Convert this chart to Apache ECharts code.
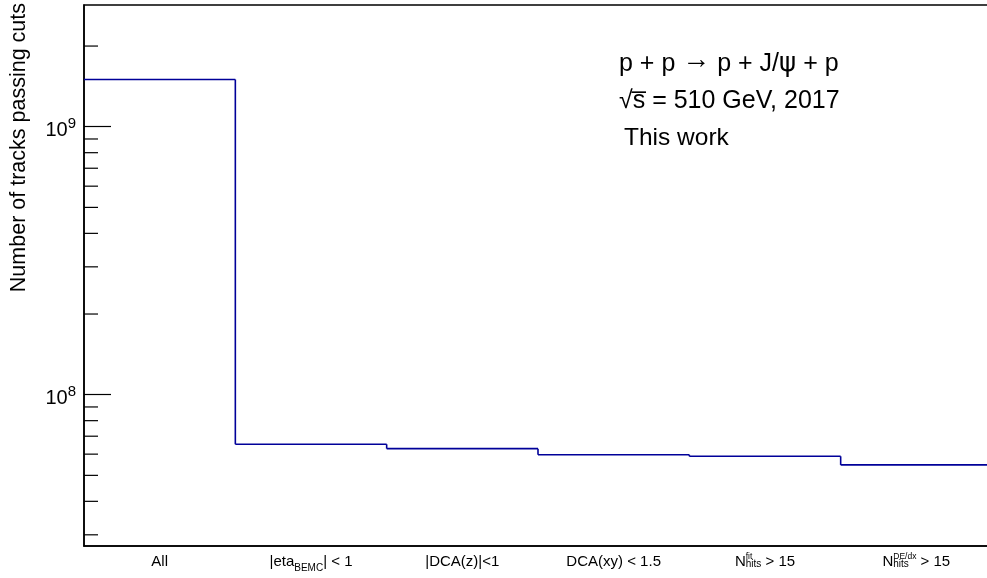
<!DOCTYPE html>
<html><head><meta charset="utf-8">
<script src="https://cdn.jsdelivr.net/npm/echarts@6/dist/echarts.min.js"></script>
<style>html,body{margin:0;padding:0;background:#fff}#c{width:987px;height:578px}</style>
</head><body><div id="c"></div>
<script>
// ---- data ----
const categories = ['All', 'eta', 'dcaz', 'dcaxy', 'nfit', 'ndedx'];
const categoryLabels = [
  '{m|All}',
  '{m||eta}{sb|BEMC}{m|| < 1}',
  '{m||DCA(z)|<1}',
  '{m|DCA(xy) < 1.5}',
  '{m|N}{spz|fit}{sh|hits}{m| > 15}',
  '{m|N}{shz|hits}{sp|DE/dx}{m| > 15}'
];
const counts = [1.50e9, 6.53e7, 6.29e7, 5.97e7, 5.89e7, 5.47e7];
const yMin = 2.725e7, yMax = 2.846e9;
const minorTickValues = [3e7, 4e7, 5e7, 6e7, 7e7, 8e7, 9e7, 2e8, 3e8, 4e8, 5e8, 6e8, 7e8, 8e8, 9e8, 2e9];
const annotationRich = '{t|p + p }{a|\u2192}{t| p + J/}{g|\u03C8}{t| + p}\n{t|\u221As\u0305 = 510 GeV, 2017}\n{w|This work}';
const yTitle = 'Number of tracks passing cuts';

const FF = '"Liberation Sans", Arial, Helvetica, sans-serif';
const LINE = '#000099';
const chart = echarts.init(document.getElementById('c'), null, {renderer: 'canvas'});

const tok = (fs, pt, extra) => Object.assign({fontSize: fs, lineHeight: fs, fontFamily: FF, color: '#000', padding: [pt, 0, 0, 0], verticalAlign: 'top', align: 'left'}, extra || {});

chart.setOption({
  animation: false,
  backgroundColor: '#fff',
  grid: {left: 84, top: 5, width: 908, bottom: 32, outerBoundsMode: 'none', containLabel: false, show: true, borderColor: '#000', borderWidth: 1.5, backgroundColor: 'transparent'},
  xAxis: {
    type: 'category', data: categories, boundaryGap: true,
    axisLine: {lineStyle: {color: '#000', width: 1.5}},
    axisTick: {inside: true, length: 16, lineStyle: {color: '#000', width: 1.2}},
    axisLabel: {
      interval: 0, margin: 5, color: '#000', fontFamily: FF, fontSize: 15,
      formatter: (v, i) => categoryLabels[i],
      rich: {
        m: tok(15, 3),
        sb: tok(10, 12.5),
        sh: tok(10, 8),
        shz: tok(10, 8, {width: 0}),
        sp: tok(8.5, 1),
        spz: tok(8.5, 1, {width: 0})
      }
    },
    splitLine: {show: false}
  },
  yAxis: {
    type: 'log', logBase: 10, min: yMin, max: yMax,
    axisLine: {show: true, lineStyle: {color: '#000', width: 1.5}},
    axisTick: {show: true, inside: true, length: 27, lineStyle: {color: '#000', width: 1.2}},
    minorTick: {show: false},
    splitLine: {show: false},
    axisLabel: {
      margin: 8, color: '#000', fontFamily: FF, showMinLabel: false, showMaxLabel: false,
      formatter: v => { const e = Math.log10(v); const r = Math.round(e); return Math.abs(e - r) < 1e-6 ? '{b|10}{s|' + r + '}' : ''; },
      rich: {
        b: {fontSize: 20, lineHeight: 20, fontFamily: FF, color: '#000', padding: [4, 0, 0, 0], verticalAlign: 'top'},
        s: {fontSize: 15, lineHeight: 15, fontFamily: FF, color: '#000', padding: [0, 0, 0, 0], verticalAlign: 'top'}
      }
    }
  },
  series: [
    {
      type: 'custom', name: 'counts', silent: true,
      data: counts.map((v, i) => [i, v]),
      renderItem: (params, api) => {
        const i = params.dataIndex;
        const v = api.value(1);
        const p = api.coord([i, v]);
        const w = api.size([1, 0], [i, v])[0];
        const style = {stroke: LINE, lineWidth: 1.6, fill: null};
        const children = [{type: 'line', shape: {x1: p[0] - w / 2, y1: p[1], x2: p[0] + w / 2, y2: p[1]}, style}];
        if (i > 0) {
          const q = api.coord([i - 1, counts[i - 1]]);
          children.push({type: 'line', shape: {x1: p[0] - w / 2, y1: q[1], x2: p[0] - w / 2, y2: p[1]}, style});
        }
        return {type: 'group', children};
      },
      z: 3
    },
    {
      type: 'custom', name: 'minorTicks', silent: true,
      data: minorTickValues.map(v => [0, v]),
      renderItem: (params, api) => {
        const v = api.value(1);
        const p = api.coord([0, v]);
        const w = api.size([1, 0], [0, v])[0];
        const x0 = p[0] - w / 2;
        return {type: 'line', shape: {x1: x0, y1: p[1], x2: x0 + 14, y2: p[1]}, style: {stroke: '#000', lineWidth: 1.2}};
      },
      z: 2
    }
  ],
  graphic: [
    {type: 'text', left: 619, top: 46.5, style: {
      text: annotationRich, fill: '#000',
      rich: {
        t: {fontSize: 25, lineHeight: 37, fontFamily: FF, color: '#000'},
        w: {fontSize: 24.5, lineHeight: 37, fontFamily: FF, color: '#000', padding: [0, 0, 0, 5]},
        a: {fontSize: 28, lineHeight: 29, fontFamily: FF, color: '#000', padding: [0, 0, 8, 0]},
        g: {fontSize: 26, lineHeight: 37, fontFamily: '"DejaVu Sans"', color: '#000'}
      }
    }},
    {type: 'text', x: 19.5, y: 3, rotation: Math.PI / 2, style: {text: yTitle, font: '21.5px ' + FF, align: 'right', verticalAlign: 'middle', fill: '#000'}}
  ]
});
</script>
</body></html>
